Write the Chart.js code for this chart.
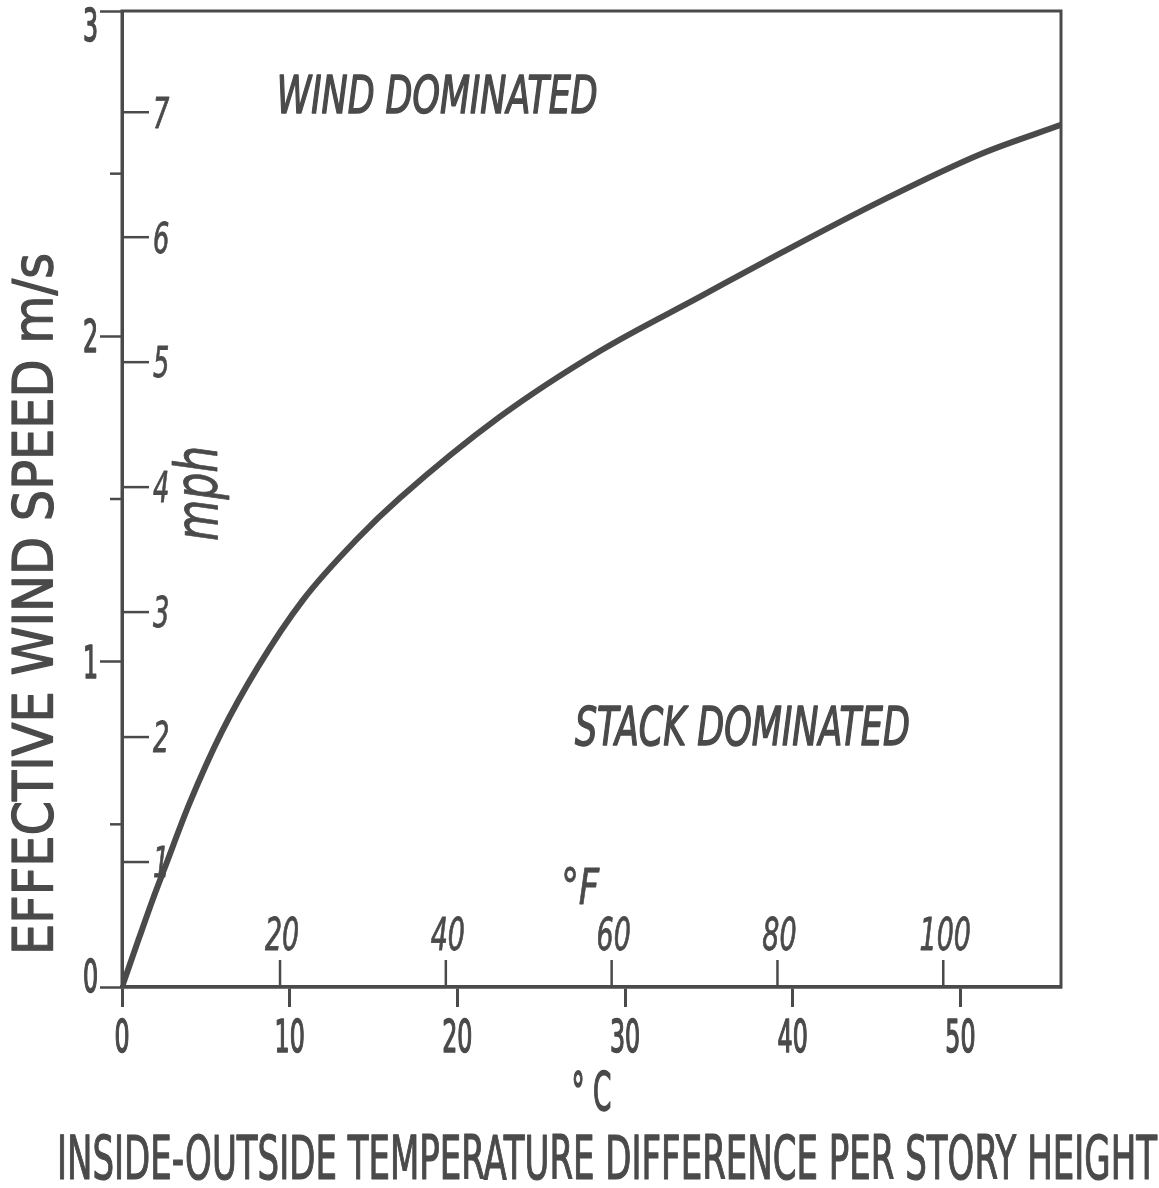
<!DOCTYPE html>
<html>
<head>
<meta charset="utf-8">
<script src="https://cdn.jsdelivr.net/npm/chart.js@4.4.1/dist/chart.umd.min.js"></script>
<style>
  html, body { margin: 0; padding: 0; background: #fff; }
</style>
</head>
<body>
<canvas id="myChart" width="1159" height="1188"></canvas>
<script>
// curve: temperature difference (°C) vs effective wind speed (m/s)
const tempC = [0, 1, 1.84, 2.54, 4.03, 5.92, 8.11, 10.8, 14.08, 16.57, 22.54, 28.51, 34.48, 39.25, 45.22, 51.19, 56];
const windSpeed = [0, 0.148, 0.27, 0.365, 0.565, 0.781, 0.984, 1.19, 1.38, 1.503, 1.753, 1.955, 2.122, 2.255, 2.415, 2.56, 2.65];

const celsiusTicks = [0, 10, 20, 30, 40, 50];
const msTicks = [0, 0.5, 1, 1.5, 2, 2.5, 3];
const mphTicks = [1, 2, 3, 4, 5, 6, 7];
const fahrenheitTicks = [20, 40, 60, 80, 100];

const ink = '#4a4a4a';
const FONT = '"DejaVu Sans Condensed", "DejaVu Sans", sans-serif';

// condensed lettering: draw text squeezed horizontally, y is the visual middle of the caps
function squeeze(ctx, txt, x, y, size, sx, o) {
  o = o || {};
  ctx.save();
  ctx.font = (o.italic ? 'italic ' : '') + size + 'px ' + FONT;
  if (o.len) sx = o.len / ctx.measureText(txt).width;
  ctx.translate(x, y);
  if (o.angle) ctx.rotate(o.angle);
  ctx.scale(sx, 1);
  ctx.textAlign = o.align || 'center';
  ctx.textBaseline = 'alphabetic';
  ctx.fillStyle = ink;
  ctx.fillText(txt, 0, size * 0.365);
  if (o.heavy) {
    // thicken the strokes a little, like the inked lettering
    ctx.strokeStyle = ink;
    ctx.lineWidth = o.heavy;
    ctx.lineJoin = 'round';
    ctx.strokeText(txt, 0, size * 0.365);
  }
  ctx.restore();
}

const decor = {
  id: 'decor',
  afterDraw(chart) {
    const { ctx, chartArea: a, scales } = chart;
    const { x, y, x2, y2 } = scales;
    ctx.save();
    ctx.strokeStyle = ink;

    // frame
    ctx.lineWidth = 3;
    ctx.strokeRect(a.left, a.top, a.right - a.left, a.bottom - a.top);

    // short half ticks on the m/s axis
    ctx.lineWidth = 2.5;
    msTicks.filter(v => v % 1 !== 0).forEach(v => {
      const py = y.getPixelForValue(v);
      ctx.beginPath(); ctx.moveTo(a.left - 12, py); ctx.lineTo(a.left, py); ctx.stroke();
    });

    // outer tick labels
    x.ticks.forEach(t => {
      squeeze(ctx, String(t.value), x.getPixelForValue(t.value), a.bottom + 49, 44, 0.6, { heavy: 1.5 });
    });
    y.ticks.filter(t => t.value % 1 === 0).forEach(t => {
      const py = Math.min(Math.max(y.getPixelForValue(t.value), a.top + 14), a.bottom - 11);
      squeeze(ctx, String(t.value), a.left - 24, py, 44, 0.6, { align: 'right', heavy: 1.5 });
    });

    // inner mph axis
    mphTicks.forEach(v => {
      const py = y2.getPixelForValue(v);
      ctx.strokeStyle = ink;
      ctx.lineWidth = 2.5;
      ctx.beginPath(); ctx.moveTo(a.left, py); ctx.lineTo(a.left + 27, py); ctx.stroke();
      squeeze(ctx, String(v), a.left + 31, py, 42, 0.68, { align: 'left', italic: true, heavy: 0.8 });
    });
    squeeze(ctx, 'mph', a.left + 74, y2.getPixelForValue(3.95), 58, 1, { len: 95, angle: -Math.PI / 2, italic: true, heavy: 0.8 });

    // inner °F axis
    fahrenheitTicks.forEach(v => {
      const px = x2.getPixelForValue(v);
      ctx.strokeStyle = ink;
      ctx.lineWidth = 2.5;
      ctx.beginPath(); ctx.moveTo(px, a.bottom); ctx.lineTo(px, a.bottom - 27); ctx.stroke();
      squeeze(ctx, String(v), px + 2, a.bottom - 53, 44, 0.68, { italic: true, heavy: 0.8 });
    });
    squeeze(ctx, '°F', x2.getPixelForValue(56.2), a.bottom - 101, 50, 1, { len: 38, italic: true, heavy: 0.8 });
    squeeze(ctx, '° C', x.getPixelForValue(28), a.bottom + 103, 54, 1, { len: 40, heavy: 1.5 });

    // region labels
    squeeze(ctx, 'WIND DOMINATED', x.getPixelForValue(18.8), y.getPixelForValue(2.745), 52, 1, { len: 321, italic: true, heavy: 1.5 });
    squeeze(ctx, 'STACK DOMINATED', x.getPixelForValue(37), y.getPixelForValue(0.805), 54, 1, { len: 335, italic: true, heavy: 1.5 });

    // axis titles
    squeeze(ctx, 'INSIDE-OUTSIDE TEMPERATURE DIFFERENCE PER STORY HEIGHT', 607, 1157, 60, 1, { len: 1100, heavy: 1.2 });
    squeeze(ctx, 'EFFECTIVE WIND SPEED m/s', 32, 604, 55, 1, { len: 702, angle: -Math.PI / 2, heavy: 1.2 });
    ctx.restore();
  }
};

const ctx = document.getElementById('myChart');

new Chart(ctx, {
  type: 'line',
  data: {
    datasets: [{
      data: tempC.map((t, i) => ({ x: t, y: windSpeed[i] })),
      borderColor: ink,
      borderWidth: 6,
      pointRadius: 0,
      cubicInterpolationMode: 'monotone',
      fill: false
    }]
  },
  options: {
    responsive: false,
    animation: false,
    layout: { padding: { left: 0, top: 11, right: 98, bottom: 0 } },
    plugins: { legend: { display: false }, tooltip: { enabled: false } },
    scales: {
      x: {
        type: 'linear', position: 'bottom', min: 0, max: 56,
        afterBuildTicks: s => { s.ticks = celsiusTicks.map(v => ({ value: v })); },
        afterFit: s => { s.height = 201; s.paddingLeft = 0; s.paddingRight = 0; },
        grid: { drawOnChartArea: false, tickLength: 20, tickWidth: 3, tickColor: ink },
        border: { color: ink, width: 3.5 },
        ticks: { display: false }
      },
      y: {
        type: 'linear', position: 'left', min: 0, max: 3,
        afterBuildTicks: s => { s.ticks = msTicks.map(v => ({ value: v })); },
        afterFit: s => { s.width = 122; s.paddingTop = 0; s.paddingBottom = 0; },
        grid: {
          drawOnChartArea: false, tickLength: 22, tickWidth: 2.5,
          tickColor: c => (c.tick && c.tick.value % 1 !== 0) ? 'rgba(0,0,0,0)' : ink
        },
        border: { color: ink, width: 3 },
        ticks: { display: false }
      },
      x2: { type: 'linear', display: false, position: 'bottom', min: 0.94, max: 114.2 },
      y2: { type: 'linear', display: false, position: 'left', min: 0, max: 7.81 }
    }
  },
  plugins: [decor]
});
</script>
</body>
</html>
